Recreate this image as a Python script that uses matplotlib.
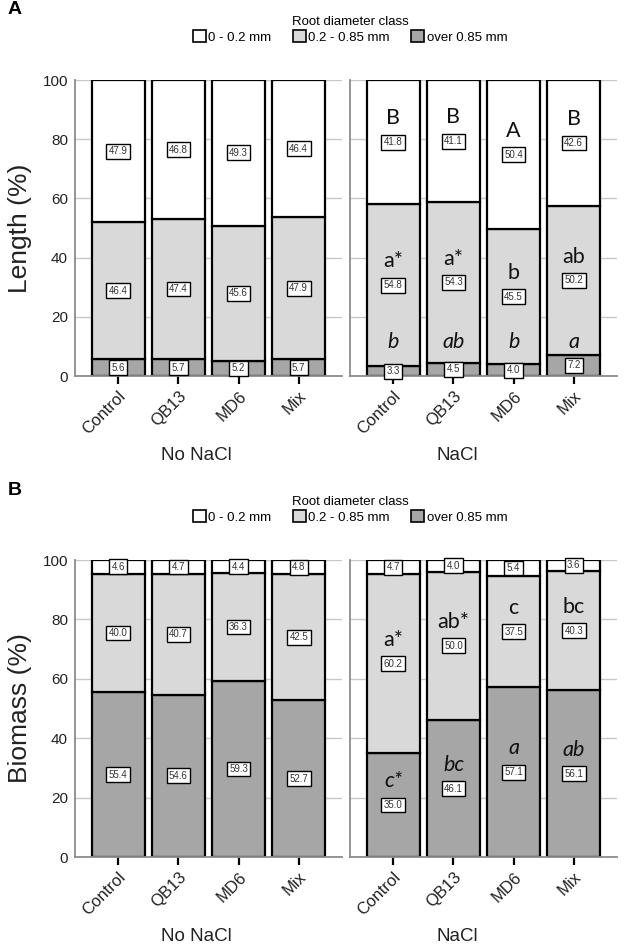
import matplotlib
matplotlib.use("Agg")
import matplotlib.pyplot as plt
from matplotlib.patches import Patch

plt.rcParams['font.family'] = ['Liberation Sans', 'DejaVu Sans']

# data
categories = ['Control', 'QB13', 'MD6', 'Mix']
conditions = ['No NaCl', 'NaCl']
class_names = ['0 - 0.2 mm', '0.2 - 0.85 mm', 'over 0.85 mm']

# A: root length (%)
length_fine_no = [47.9, 46.8, 49.3, 46.4]
length_mid_no = [46.4, 47.4, 45.6, 47.9]
length_coarse_no = [5.6, 5.7, 5.2, 5.7]
length_fine_nacl = [41.8, 41.1, 50.4, 42.6]
length_mid_nacl = [54.8, 54.3, 45.5, 50.2]
length_coarse_nacl = [3.3, 4.5, 4.0, 7.2]
length_let_fine = ['B', 'B', 'A', 'B']
length_let_mid = ['a*', 'a*', 'b', 'ab']
length_let_coarse = ['b', 'ab', 'b', 'a']

# B: root biomass (%)
biomass_fine_no = [4.6, 4.7, 4.4, 4.8]
biomass_mid_no = [40.0, 40.7, 36.3, 42.5]
biomass_coarse_no = [55.4, 54.6, 59.3, 52.7]
biomass_fine_nacl = [4.7, 4.0, 5.4, 3.6]
biomass_mid_nacl = [60.2, 50.0, 37.5, 40.3]
biomass_coarse_nacl = [35.0, 46.1, 57.1, 56.1]
biomass_let_fine = ['', '', '', '']
biomass_let_mid = ['a*', 'ab*', 'c', 'bc']
biomass_let_coarse = ['c*', 'bc', 'a', 'ab']

colors = ['#ffffff', '#d9d9d9', '#a6a6a6']
W, H = 624.0, 946.0

fig = plt.figure(figsize=(W / 100, H / 100), dpi=100)


def px_axes(x0, x1, ytop, ybot):
    return fig.add_axes([x0 / W, 1 - ybot / H, (x1 - x0) / W, (ybot - ytop) / H])


def draw_group(ax, fine, mid, coarse, lets, show_y):
    x = list(range(len(categories)))
    segs = [coarse, mid, fine]
    segcols = [colors[2], colors[1], colors[0]]
    bottom = [0.0] * len(x)
    mids = []
    for vals, col in zip(segs, segcols):
        ax.bar(x, vals, bottom=bottom, width=0.89, color=col,
               edgecolor='black', linewidth=1.6, zorder=2)
        m = [b + v / 2.0 for b, v in zip(bottom, vals)]
        mids.append(m)
        for i, v in enumerate(vals):
            ax.text(i, m[i], '%.1f' % v, ha='center', va='center', fontsize=7,
                    color='#333333', zorder=4, clip_on=False,
                    bbox=dict(boxstyle='square,pad=0.25', fc='white', ec='black', lw=1.0))
        bottom = [b + v for b, v in zip(bottom, vals)]
    if lets is not None:
        let_coarse, let_mid, let_fine = lets
        for level, letters, italic in [(0, let_coarse, True), (1, let_mid, False), (2, let_fine, False)]:
            for i, t in enumerate(letters):
                if not t:
                    continue
                y = max(mids[level][i] + 8.0, 11.5)
                ax.text(i, y, t, ha='center', va='center', fontsize=15.5,
                        style='italic' if italic else 'normal',
                        family=['Lato', 'DejaVu Sans'], color='#111111', zorder=4)
    ax.set_xlim(-0.72, 3.72)
    ax.set_ylim(0, 100)
    ax.set_yticks([0, 20, 40, 60, 80, 100])
    ax.yaxis.grid(True, color='#c8c8c8', linewidth=1.0, zorder=0)
    ax.set_axisbelow(True)
    ax.set_xticks(x)
    ax.set_xticklabels(categories, rotation=45, ha='right', rotation_mode='anchor',
                       fontsize=12, color='#222222')
    ax.tick_params(axis='x', length=6, width=1.6, color='black', pad=3)
    ax.tick_params(axis='y', length=0, labelsize=11, labelcolor='#222222', pad=5)
    if not show_y:
        ax.tick_params(axis='y', labelleft=False)
    for s in ['top', 'right']:
        ax.spines[s].set_visible(False)
    for s in ['left', 'bottom']:
        ax.spines[s].set_color('#8c8c8c')
        ax.spines[s].set_linewidth(1.3)


panels = [
    ('A', 'Length (%)', 80, 376,
     (length_fine_no, length_mid_no, length_coarse_no),
     (length_fine_nacl, length_mid_nacl, length_coarse_nacl),
     (length_let_coarse, length_let_mid, length_let_fine)),
    ('B', 'Biomass (%)', 560, 857,
     (biomass_fine_no, biomass_mid_no, biomass_coarse_no),
     (biomass_fine_nacl, biomass_mid_nacl, biomass_coarse_nacl),
     (biomass_let_coarse, biomass_let_mid, biomass_let_fine)),
]

for tag, ylab, ytop, ybot, no_data, nacl_data, lets in panels:
    ax1 = px_axes(75, 342, ytop, ybot)
    ax2 = px_axes(350, 617, ytop, ybot)
    draw_group(ax1, no_data[0], no_data[1], no_data[2], None, True)
    draw_group(ax2, nacl_data[0], nacl_data[1], nacl_data[2], lets, False)

    fig.text(196 / W, 1 - (ybot + 79) / H, conditions[0], ha='center', va='center',
             fontsize=13.5, color='#222222')
    fig.text(457 / W, 1 - (ybot + 79) / H, conditions[1], ha='center', va='center',
             fontsize=13.5, color='#222222')
    fig.text(20 / W, 1 - (ytop + ybot) / 2 / H, ylab, rotation=90, ha='center',
             va='center', fontsize=19, color='#222222')
    fig.text(8 / W, 1 - (ytop - 70) / H, tag, ha='left', va='center', fontsize=14,
             fontweight='bold', color='black')

    handles = [Patch(facecolor=c, edgecolor='black', linewidth=1.2) for c in colors]
    fig.legend(handles, class_names, title='Root diameter class', loc='upper center',
               bbox_to_anchor=(350 / W, 1 - (ytop - 71) / H), ncol=3, frameon=False,
               fontsize=9.5, title_fontsize=9.5, handlelength=1.0, handleheight=1.0,
               handletextpad=0.2, columnspacing=1.6, borderpad=0.0, labelspacing=0.2)

fig.savefig('out.png', dpi=100)
